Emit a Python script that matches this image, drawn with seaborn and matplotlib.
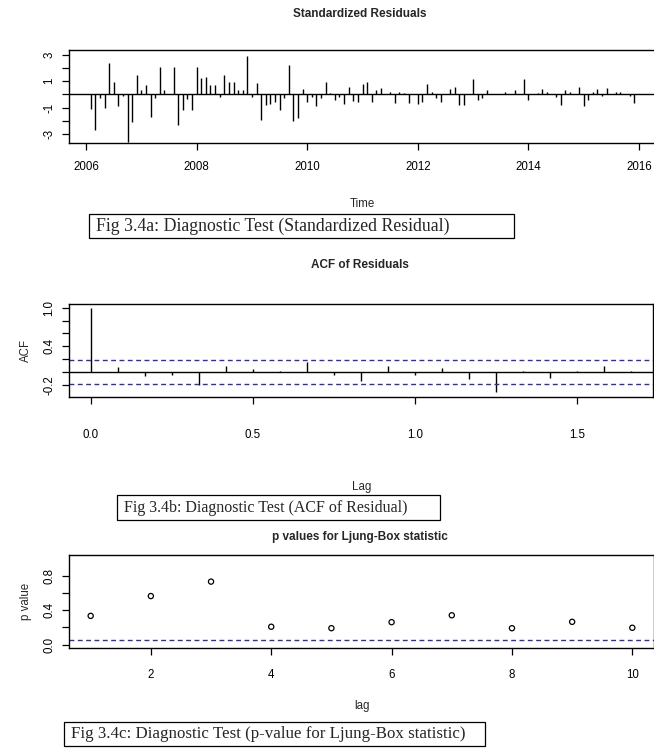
import numpy as np
import pandas as pd
import matplotlib
matplotlib.use("Agg")
import matplotlib.pyplot as plt
import seaborn as sns
from matplotlib.patches import Rectangle

sns.set_theme(style="ticks")
plt.rcParams['font.family'] = ['Liberation Sans', 'DejaVu Sans']

# ---------------- data ----------------
start_year = 2006
start_month = 2
frequency = 12
std_resid = [
    -1.09, -2.7, -0.25, -1.0, 2.35, 0.96, -0.9, -0.15, -3.6, -2.1,
    1.44, 0.3, 0.68, -1.7, -0.3, 2.07, 0.3, 0.05, 2.07, -2.32,
    -1.19, -0.33, -1.19, 2.07, 1.21, 1.34, 0.68, 0.68, -0.2, 1.44,
    0.96, 0.96, 0.3, 0.3, 2.93, -0.2, 0.86, -1.94, -0.8, -0.7,
    -0.58, -1.19, -0.25, 2.2, -2.05, -1.77, 0.38, -0.58, -0.2, -0.9,
    -0.25, 0.96, 0.1, -0.45, -0.2, -0.7, 0.55, -0.5, -0.55, 0.76,
    0.96, -0.55, 0.3, 0.45, 0.03, 0.2, -0.63, 0.18, 0.08, -0.63,
    0.02, -0.76, -0.6, 0.76, 0.18, -0.25, -0.55, 0.02, 0.38, 0.55,
    -0.8, -0.8, 0.02, 1.14, -0.43, -0.25, 0.3, 0.02, 0.02, 0.02,
    0.2, 0.02, 0.3, 0.02, 1.14, -0.43, 0.02, 0.12, 0.38, 0.2,
    0.02, -0.2, -0.8, 0.3, 0.2, 0.02, 0.58, -0.9, -0.43, 0.2,
    0.38, -0.13, 0.48, 0.02, 0.2, 0.2, 0.02, -0.13, -0.63,
]
acf_lag_months = list(range(0, 21))
acf_values = [1.0, 0.077, -0.067, -0.041, -0.195, 0.097, 0.046, 0.01, 0.15, -0.04,
              -0.14, 0.097, -0.04, 0.06, -0.107, -0.31, 0.01, -0.09, 0.01, 0.097, 0.01]
acf_ci = 0.18
lb_lags = list(range(1, 11))
lb_pvalues = [0.333, 0.563, 0.731, 0.207, 0.19, 0.26, 0.34, 0.19, 0.264, 0.195]
lb_ref = 0.05

resid_xticks = [2006, 2008, 2010, 2012, 2014, 2016]
acf_xticks = [0.0, 0.5, 1.0, 1.5]
lb_xticks = [2, 4, 6, 8, 10]

titles = ["Standardized Residuals", "ACF of Residuals", "p values for Ljung-Box statistic"]
captions = ["Fig 3.4a: Diagnostic Test (Standardized Residual)",
            "Fig 3.4b: Diagnostic Test (ACF of Residual)",
            "Fig 3.4c: Diagnostic Test (p-value for Ljung-Box statistic)"]

# ---------------- frames ----------------
resid_df = pd.DataFrame({
    "time": start_year + (start_month - 1 + np.arange(len(std_resid))) / frequency,
    "resid": std_resid,
})
acf_df = pd.DataFrame({"lag": np.array(acf_lag_months) / frequency, "acf": acf_values})
lb_df = pd.DataFrame({"lag": lb_lags, "p": lb_pvalues})

# ---------------- figure ----------------
W, H = 654, 748
fig = plt.figure(figsize=(W / 100, H / 100), dpi=100)
fig.patch.set_facecolor("white")

def add_ax(l, t, r, b):
    return fig.add_axes([l / W, 1 - b / H, (r - l) / W, (b - t) / H])

BLUE = "#2e2ea6"
TICKFS = 8.3

def style(ax, xpad=7):
    ax.set_facecolor("white")
    for s in ax.spines.values():
        s.set_visible(True)
        s.set_color("black")
        s.set_linewidth(1.0)
    ax.tick_params(axis="both", direction="out", length=5, width=0.9,
                   colors="black", labelsize=TICKFS, pad=5)
    ax.tick_params(axis="x", pad=xpad)
    ax.grid(False)

# Panel 1: standardized residuals
ax1 = add_ax(69, 50, 656, 143)
style(ax1, xpad=8)
ax1.vlines(resid_df["time"], 0, resid_df["resid"], color="black", linewidth=1.0)
ax1.axhline(0, color="black", linewidth=1.0)
ax1.set_xlim(2005.69, 2016.31)
ax1.set_ylim(-3.68, 3.36)
ax1.set_xticks(resid_xticks)
ax1.set_xticklabels([str(v) for v in resid_xticks])
ax1.set_yticks([-3, -2, -1, 0, 1, 2, 3])
ax1.set_yticklabels(["-3", "", "-1", "", "1", "", "3"], rotation=90, va="center")
ax1.set_xlabel("")
ax1.set_ylabel("")
fig.text(362 / W, 1 - 204 / H, "Time", ha="center", va="center", fontsize=8.3)

# Panel 2: ACF
ax2 = add_ax(69, 304, 653, 397)
style(ax2, xpad=18)
ax2.vlines(acf_df["lag"], 0, acf_df["acf"], color="black", linewidth=1.0)
ax2.axhline(0, color="black", linewidth=1.0)
for v in (acf_ci, -acf_ci):
    ax2.axhline(v, color=BLUE, linewidth=1.0, linestyle=(0, (3.5, 2.5)))
ax2.set_xlim(-0.0667, 1.7333)
ax2.set_ylim(-0.387, 1.057)
ax2.set_xticks(acf_xticks)
ax2.set_xticklabels([f"{v:.1f}" for v in acf_xticks])
ax2.set_yticks([-0.2, 0.0, 0.2, 0.4, 0.6, 0.8, 1.0])
ax2.set_yticklabels(["-0.2", "", "", "0.4", "", "", "1.0"], rotation=90, va="center")
ax2.set_ylabel("ACF", fontsize=8.3, labelpad=8)
fig.text(362 / W, 1 - 487 / H, "Lag", ha="center", va="center", fontsize=8.3)

# Panel 3: Ljung-Box p-values
ax3 = add_ax(69, 555, 654, 648)
style(ax3, xpad=10)
sns.scatterplot(data=lb_df, x="lag", y="p", ax=ax3, marker="o", s=14,
                facecolors="none", edgecolor="black", linewidth=0.9, legend=False)
ax3.axhline(lb_ref, color=BLUE, linewidth=1.0, linestyle=(0, (3.5, 2.5)))
ax3.set_xlim(0.64, 10.36)
ax3.set_ylim(-0.04, 1.04)
ax3.set_xticks(lb_xticks)
ax3.set_xticklabels([str(v) for v in lb_xticks])
ax3.set_yticks([0.0, 0.2, 0.4, 0.6, 0.8])
ax3.set_yticklabels(["0.0", "", "0.4", "", "0.8"], rotation=90, va="center")
ax3.set_xlabel("")
ax3.set_ylabel("p value", fontsize=8.3, labelpad=8)
fig.text(362 / W, 1 - 706 / H, "lag", ha="center", va="center", fontsize=8.3)

# Titles
for txt, y in zip(titles, [14, 265, 537]):
    fig.text(360 / W, 1 - y / H, txt, ha="center", va="center",
             fontsize=8.5, fontweight="bold")

# Caption boxes
cap_boxes = [(89, 214, 514, 238), (117, 495, 440, 520), (64, 722, 485, 746)]
cap_sizes = [12.8, 11.5, 12.2]
for txt, (l, t, r, b), fs in zip(captions, cap_boxes, cap_sizes):
    fig.patches.append(Rectangle((l / W, 1 - b / H), (r - l) / W, (b - t) / H,
                                 transform=fig.transFigure, facecolor="white",
                                 edgecolor="black", linewidth=0.9))
    fig.text((l + 7) / W, 1 - ((t + b) / 2) / H, txt, ha="left", va="center",
             fontsize=fs, family=["Liberation Serif", "DejaVu Serif"])

fig.savefig("out.png", dpi=100, facecolor="white")
